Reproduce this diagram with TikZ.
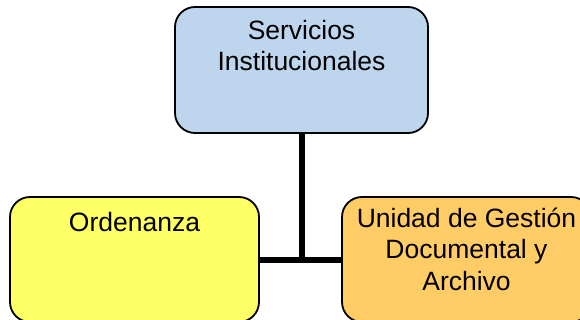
\documentclass[tikz,border=0pt]{standalone}
\usepackage{fontspec}
\setmainfont{Liberation Sans}
\definecolor{boxblue}{RGB}{189,213,237}
\definecolor{boxyellow}{RGB}{255,255,102}
\definecolor{boxorange}{RGB}{255,204,102}
\tikzset{
  orgbox/.style={draw=black, line width=1.8pt, rounded corners=20pt, inner sep=0pt},
  lbl/.style={align=center, inner sep=0pt, font=\fontsize{26.5}{31.5}\selectfont, anchor=base},
  conn/.style={line width=6pt, black}
}
\begin{document}
\begin{tikzpicture}[x=1pt,y=-1pt]
\useasboundingbox (0,0) rectangle (580,320);
\clip (0,0) rectangle (580,320);
\node[orgbox, fill=boxblue, minimum width=253pt, minimum height=126pt] (top) at (301.5,70) {};
\node[orgbox, fill=boxyellow, minimum width=249pt, minimum height=125pt] (ord) at (134.5,259.5) {};
\node[orgbox, fill=boxorange, minimum width=249pt, minimum height=125pt] (uni) at (466.5,259.5) {};
\draw[conn] (ord.east) -- (uni.west);
\draw[conn] (top.south) -- (top.south |- ord.east);
\node[lbl] (toptxt) at (301.5,71) {Servicios\\Institucionales};
\node[lbl] (ordtxt) at (134.5,231) {Ordenanza};
\node[lbl] (unitxt) at (466.5,290) {Unidad de Gestión\\Documental y\\Archivo};
\end{tikzpicture}
\end{document}
